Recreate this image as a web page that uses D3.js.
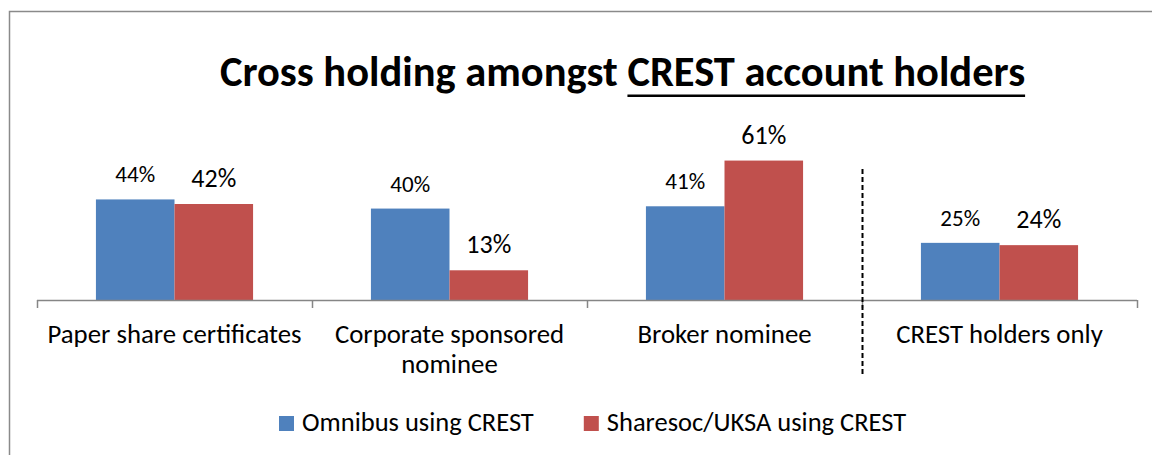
<!DOCTYPE html>
<html><head><meta charset="utf-8">
<script src="https://cdn.jsdelivr.net/npm/d3@7"></script>
<style>html,body{margin:0;padding:0;background:#fff;}svg{display:block;}</style>
</head><body>
<svg id="c" width="1152" height="455"></svg>
<script>
const categories = [["Paper share certificates"], ["Corporate sponsored", "nominee"], ["Broker nominee"], ["CREST holders only"]];
const seriesNames = ["Omnibus using CREST", "Sharesoc/UKSA using CREST"];
const omnibus = [0.44, 0.40, 0.41, 0.25];
const sharesoc = [0.42, 0.13, 0.61, 0.24];
const colors = ["#4F81BD", "#C0504D"];
const title = "Cross holding amongst ";
const titleUnderlined = "CREST account holders";

const FONT = "Carlito, Lato, 'Open Sans', sans-serif";
const svg = d3.select("#c");
const keys = categories.map(c => c.join(" "));
const series = [omnibus, sharesoc];

// frame
svg.append("path").attr("d", "M9.5,455V11.5H1152").attr("fill","none").attr("stroke","#8a8a8a").attr("stroke-width",1.5);

const x = d3.scaleBand().domain(keys).range([37, 1137]).paddingInner(0).paddingOuter(0);
const xs = d3.scaleBand().domain([0,1]).range([0, x.bandwidth()]).paddingInner(0).paddingOuter(0.75);
const y = d3.scaleLinear().domain([0, 0.7]).range([300, 140]);

// title
const t = svg.append("text").attr("x", 622.5).attr("y", 86).attr("text-anchor","middle")
  .attr("font-family", FONT).attr("font-weight","bold").attr("font-size", 42.5).attr("fill","#000");
t.append("tspan").text(title);
t.append("tspan").text(titleUnderlined);
{
  const n = t.node();
  const start = n.getStartPositionOfChar(title.length).x;
  const end = n.getEndPositionOfChar(title.length + titleUnderlined.length - 1).x;
  svg.append("rect").attr("x", start).attr("y", 94.5).attr("width", end - start).attr("height", 2.5).attr("fill","#000");
}

// bars
const g = svg.append("g");
series.forEach((vals, si) => {
  g.selectAll(".b"+si).data(vals).join("rect")
    .attr("x", (d,i) => x(keys[i]) + xs(si))
    .attr("y", d => y(d))
    .attr("width", xs.bandwidth())
    .attr("height", d => y(0) - y(d))
    .attr("fill", colors[si]);
  g.selectAll(".l"+si).data(vals).join("text")
    .attr("x", (d,i) => x(keys[i]) + xs(si) + xs.bandwidth()/2)
    .attr("y", d => y(d) - 17)
    .attr("text-anchor","middle")
    .attr("font-family", FONT).attr("font-size", si === 0 ? 23 : 26).attr("fill","#000")
    .text(d => d3.format(".0%")(d));
});

// axis
const axis = d3.axisBottom(x).tickSize(8).tickFormat("");
const ag = svg.append("g").attr("transform","translate(0,300)").call(axis);
ag.select(".domain").remove();
ag.selectAll(".tick").remove();
ag.append("line").attr("x1",37).attr("x2",1137).attr("y1",0.5).attr("y2",0.5).attr("stroke","#868686").attr("stroke-width",1.5);
const tickPos = keys.map(k => x(k)).concat([x.range()[1]]);
ag.selectAll("line.tk").data(tickPos).join("line").attr("class","tk")
  .attr("x1", d => d + 0.5).attr("x2", d => d + 0.5).attr("y1", 0).attr("y2", 8)
  .attr("stroke","#868686").attr("stroke-width",1.5);

// category labels
categories.forEach((lines, i) => {
  const tx = svg.append("text").attr("text-anchor","middle").attr("font-family", FONT)
    .attr("font-size", 26.8).attr("fill","#000");
  lines.forEach((ln, j) => tx.append("tspan").attr("x", x(keys[i]) + x.bandwidth()/2).attr("y", 343 + j*30).text(ln));
});

// dashed separator
svg.append("line").attr("x1", x(keys[3]) + 0.5).attr("x2", x(keys[3]) + 0.5).attr("y1", 169).attr("y2", 375)
  .attr("stroke","#000").attr("stroke-width",2).attr("stroke-dasharray","5,3");

// legend
const lg = svg.append("g");
let lx = 279;
seriesNames.forEach((n, i) => {
  lg.append("rect").attr("x", lx).attr("y", 416).attr("width", 15).attr("height", 15).attr("fill", colors[i]);
  const tt = lg.append("text").attr("x", lx + 23).attr("y", 431).attr("font-family", FONT).attr("font-size", 26.5).attr("fill","#000").text(n);
  lx = lx + 23 + tt.node().getComputedTextLength() + 50;
});
</script>
</body></html>
